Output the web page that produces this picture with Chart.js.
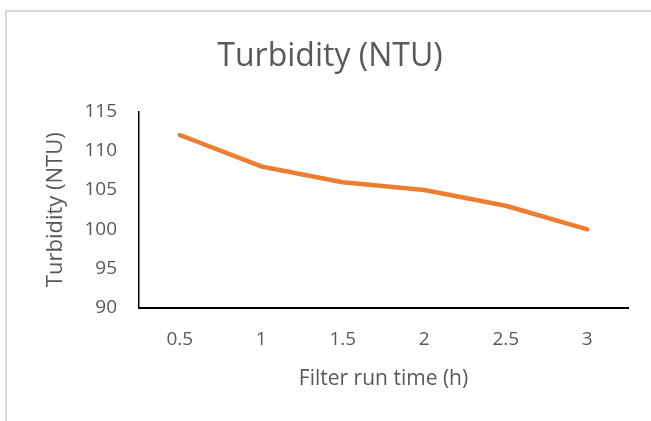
<!DOCTYPE html>
<html>
<head>
<meta charset="utf-8">
<script src="https://cdn.jsdelivr.net/npm/chart.js@4/dist/chart.umd.min.js"></script>
<style>
  html, body { margin: 0; padding: 0; background: #fff; }
  #frame { position: absolute; left: 5px; top: 10px; width: 700px; height: 500px;
           border-left: 2px solid #d9d9d9; border-top: 2px solid #d9d9d9; }
  #wrap { position: absolute; left: 0; top: 0; width: 651px; height: 421px; }
</style>
</head>
<body>
<div id="frame"></div>
<div id="wrap"><canvas id="chart" width="651" height="421"></canvas></div>
<script>
    var hours = ['0.5', '1', '1.5', '2', '2.5', '3'];
    var turbidity = [112, 108, 106, 105, 103, 100];
    var yMin = 90, yMax = 115, yStep = 5;

    var textColor = '#595959';
    var fontFamily = '"Open Sans", "Noto Sans", sans-serif';

    var ctx = document.getElementById('chart');
    new Chart(ctx, {
        type: 'line',
        data: {
            labels: hours,
            datasets: [{
                label: 'Turbidity (NTU)',
                data: turbidity,
                borderColor: '#ED7D31',
                borderWidth: 4.5,
                borderCapStyle: 'round',
                borderJoinStyle: 'round',
                pointRadius: 0,
                tension: 0,
                fill: false
            }]
        },
        options: {
            responsive: false,
            animation: false,
            // left/right padding chosen so the title centres where the original does
            layout: { padding: { left: 32, right: 23, top: 0, bottom: 0 } },
            plugins: {
                legend: { display: false },
                tooltip: { enabled: false },
                title: {
                    display: true,
                    text: 'Turbidity (NTU)',
                    color: textColor,
                    font: { family: fontFamily, size: 32, weight: 'normal', lineHeight: 1.2 },
                    padding: { top: 38, bottom: 35 }
                }
            },
            scales: {
                x: {
                    offset: true,
                    grid: { display: false, drawTicks: false },
                    border: { display: true, color: '#000', width: 2 },
                    ticks: {
                        color: textColor,
                        padding: 20,
                        maxRotation: 0,
                        font: { family: fontFamily, size: 19 }
                    },
                    title: {
                        display: true,
                        text: 'Filter run time (h)',
                        color: textColor,
                        font: { family: fontFamily, size: 21, lineHeight: 1.2 },
                        padding: { top: 0, bottom: 29 }
                    },
                    afterFit: function (scale) { scale.height = 113; }
                },
                y: {
                    min: yMin,
                    max: yMax,
                    grid: { display: false, drawTicks: false },
                    border: { display: true, color: '#000', width: 1.5 },
                    ticks: {
                        stepSize: yStep,
                        color: textColor,
                        padding: 22,
                        font: { family: fontFamily, size: 19 }
                    },
                    title: {
                        display: true,
                        text: 'Turbidity (NTU)',
                        color: textColor,
                        font: { family: fontFamily, size: 22, lineHeight: 1.2 },
                        padding: { top: 11, bottom: 0 }
                    },
                    afterFit: function (scale) { scale.width = 107; }
                }
            }
        }
    });
</script>
</body>
</html>
